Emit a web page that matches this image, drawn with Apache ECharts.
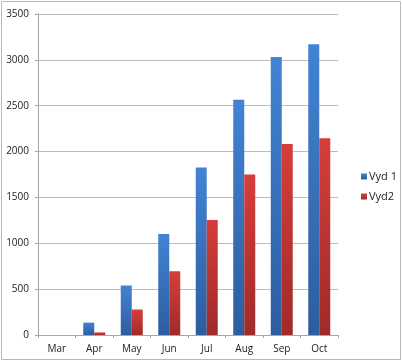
<!DOCTYPE html>
<html><head><meta charset="utf-8">
<script src="https://cdn.jsdelivr.net/npm/echarts@6/dist/echarts.min.js"></script>
<style>html,body{margin:0;padding:0;background:#fff}#c{width:402px;height:362px}</style>
</head><body><div id="c"></div>
<script>
var categories = ['Mar','Apr','May','Jun','Jul','Aug','Sep','Oct'];
var vyd1 = [0, 135, 540, 1100, 1825, 2565, 3030, 3170];
var vyd2 = [0, 28, 278, 695, 1255, 1750, 2082, 2145];
var yTicks = {min: 0, max: 3500, interval: 500};

function grad(top, bottom){
  return new echarts.graphic.LinearGradient(0,0,0,1,[{offset:0,color:top},{offset:1,color:bottom}]);
}
var chart = echarts.init(document.getElementById('c'), null, {renderer:'canvas'});
var font = 'Open Sans, Liberation Sans, sans-serif';
chart.setOption({
  animation:false,
  backgroundColor:'#fff',
  graphic:[{type:'rect',shape:{x:1.5,y:1.5,width:399,height:358},style:{fill:'none',stroke:'#b9b9b9',lineWidth:1}}],
  grid:{left:38,top:14,right:64,bottom:27,containLabel:false},
  legend:{orient:'vertical',left:356,top:166,itemWidth:6,itemHeight:6,itemGap:9,icon:'rect',
    textStyle:{fontSize:11,color:'#222',fontFamily:font,padding:[0,0,0,-3]},
    data:['Vyd 1','Vyd2']},
  xAxis:{type:'category',data:categories,
    axisLine:{lineStyle:{color:'#a6a6a6'}},
    axisTick:{show:true,length:3,lineStyle:{color:'#a6a6a6'}},
    axisLabel:{fontSize:10,color:'#222',fontFamily:font,margin:9}},
  yAxis:{type:'value',min:yTicks.min,max:yTicks.max,interval:yTicks.interval,
    axisLine:{show:true,lineStyle:{color:'#a6a6a6'}},
    axisTick:{show:true,length:3,lineStyle:{color:'#a6a6a6'}},
    splitLine:{lineStyle:{color:'#bdbdbd',width:1}},
    axisLabel:{fontSize:10,color:'#222',fontFamily:font,margin:9,formatter:function(v){return String(v);}}},
  series:[
    {name:'Vyd 1',type:'bar',data:vyd1,barWidth:11,barGap:'0%',
      itemStyle:{color:grad('#4383d3','#2c5d9f')}},
    {name:'Vyd2',type:'bar',data:vyd2,barWidth:11,barGap:'0%',
      itemStyle:{color:grad('#d63e3a','#9f2b29')}}
  ]
});
</script></body></html>
